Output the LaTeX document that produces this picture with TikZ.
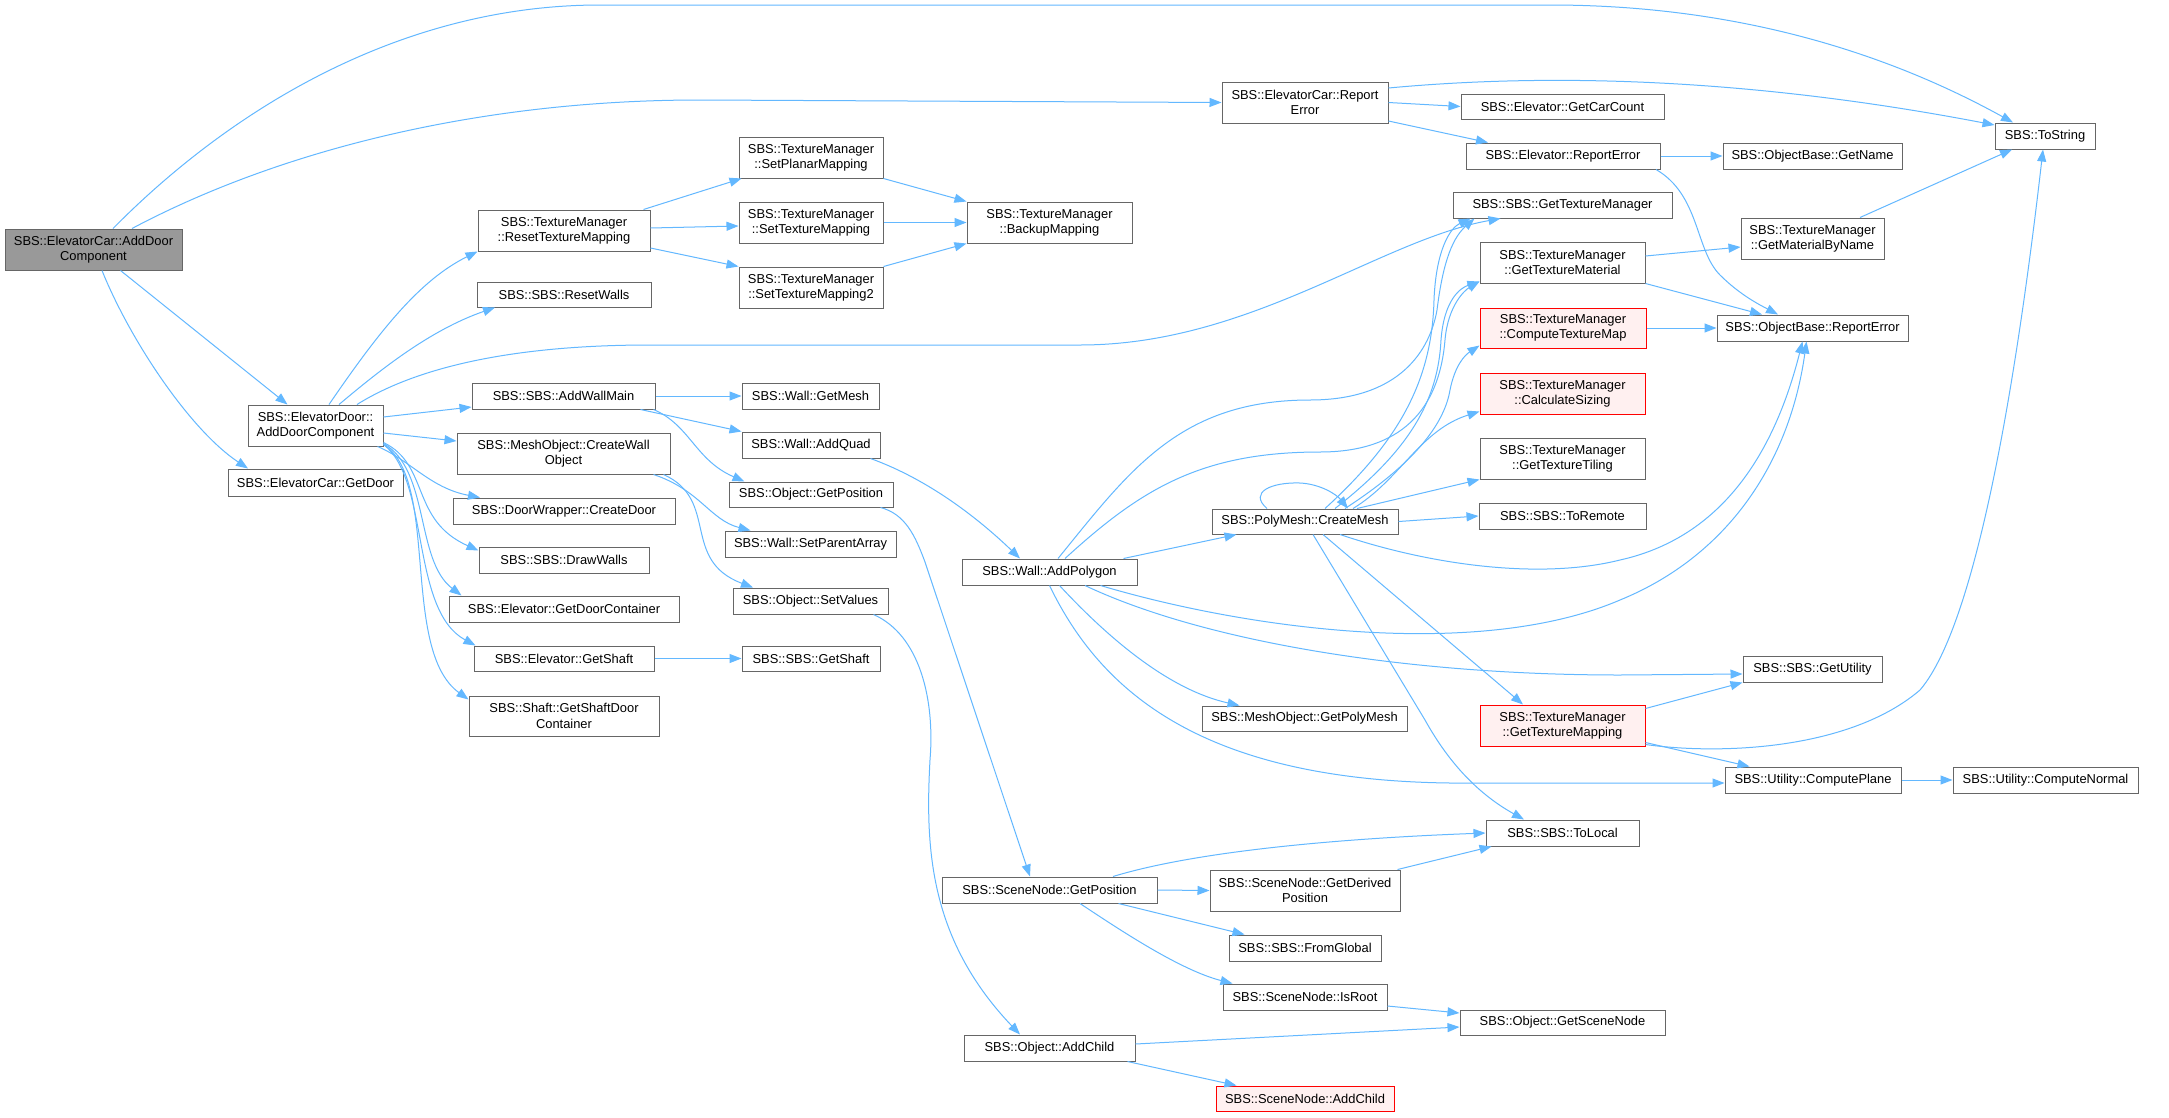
\documentclass[tikz,border=0pt]{standalone}
\usepackage{fontspec}
\setmainfont{Liberation Sans}
\usetikzlibrary{arrows.meta}
\definecolor{edgec}{HTML}{63B8FF}
\definecolor{nodeb}{HTML}{666666}
\definecolor{rootf}{HTML}{999999}
\definecolor{redb}{HTML}{FF0000}
\definecolor{redf}{HTML}{FFF0F0}
\newcommand\nd[7]{\node[#6,minimum width={(#4-#2)*1pt},minimum height={(#5-#3)*1pt}] (#1) at ({(#2+#4)/2},{(#3+#5)/2}) {#7};}
\tikzset{
  box/.style={draw=nodeb,fill=white,line width=1pt,inner sep=0pt,align=center,font=\fontsize{12.9pt}{15.3pt}\selectfont},
  rootbox/.style={box,fill=rootf},
  redbox/.style={box,draw=redb,fill=redf},
  calle/.style={draw=edgec,line width=1pt,-{Triangle[length=12pt,width=9pt]}}
}
\begin{document}
\begin{tikzpicture}[x=1pt,y=-1pt]
\fill[white] (0,0) rectangle (2169,1117);
\useasboundingbox (0,0) rectangle (2169,1117);
% nodes
\nd{root}{5}{229}{182}{270}{rootbox}{SBS::ElevatorCar::AddDoor\\Component}
\nd{ecRep}{1222}{82}{1388}{123}{box}{SBS::ElevatorCar::Report\\Error}
\nd{tostr}{1995}{123}{2095}{149}{box}{SBS::ToString}
\nd{carCount}{1461}{94}{1664}{119}{box}{SBS::Elevator::GetCarCount}
\nd{eRep}{1466}{143}{1660}{169}{box}{SBS::Elevator::ReportError}
\nd{getName}{1723}{143}{1902}{169}{box}{SBS::ObjectBase::GetName}
\nd{texMgr}{1453}{192}{1672}{218}{box}{SBS::SBS::GetTextureManager}
\nd{matByName}{1741}{218}{1884}{259}{box}{SBS::TextureManager\\::GetMaterialByName}
\nd{texMat}{1480}{242}{1645}{283}{box}{SBS::TextureManager\\::GetTextureMaterial}
\nd{obRep}{1717}{315}{1908}{341}{box}{SBS::ObjectBase::ReportError}
\nd{compTex}{1480}{308}{1646}{348}{redbox}{SBS::TextureManager\\::ComputeTextureMap}
\nd{calcSz}{1480}{373}{1645}{414}{redbox}{SBS::TextureManager\\::CalculateSizing}
\nd{tiling}{1480}{438}{1645}{479}{box}{SBS::TextureManager\\::GetTextureTiling}
\nd{toRemote}{1479}{503}{1646}{529}{box}{SBS::SBS::ToRemote}
\nd{getUtil}{1743}{656}{1882}{682}{box}{SBS::SBS::GetUtility}
\nd{texMap}{1480}{705}{1645}{746}{redbox}{SBS::TextureManager\\::GetTextureMapping}
\nd{compPlane}{1725}{767}{1901}{793}{box}{SBS::Utility::ComputePlane}
\nd{compNorm}{1953}{767}{2138}{793}{box}{SBS::Utility::ComputeNormal}
\nd{toLocal}{1486}{820}{1639}{846}{box}{SBS::SBS::ToLocal}
\nd{sceneNode}{1460}{1010}{1665}{1035}{box}{SBS::Object::GetSceneNode}
\nd{createMesh}{1212}{509}{1398}{534}{box}{SBS::PolyMesh::CreateMesh}
\nd{getPolyMesh}{1202}{706}{1407}{731}{box}{SBS::MeshObject::GetPolyMesh}
\nd{derived}{1210}{870}{1400}{911}{box}{SBS::SceneNode::GetDerived\\Position}
\nd{fromGlobal}{1229}{935}{1381}{961}{box}{SBS::SBS::FromGlobal}
\nd{isRoot}{1223}{984}{1387}{1010}{box}{SBS::SceneNode::IsRoot}
\nd{snAddChild}{1216}{1086}{1394}{1111}{redbox}{SBS::SceneNode::AddChild}
\nd{addPoly}{962}{559}{1137}{585}{box}{SBS::Wall::AddPolygon}
\nd{snGetPos}{942}{877}{1157}{903}{box}{SBS::SceneNode::GetPosition}
\nd{objAddChild}{964}{1035}{1135}{1061}{box}{SBS::Object::AddChild}
\nd{resetTM}{478}{210}{650}{251}{box}{SBS::TextureManager\\::ResetTextureMapping}
\nd{resetWalls}{477}{282}{651}{307}{box}{SBS::SBS::ResetWalls}
\nd{planar}{739}{137}{883}{178}{box}{SBS::TextureManager\\::SetPlanarMapping}
\nd{setTM}{739}{202}{883}{243}{box}{SBS::TextureManager\\::SetTextureMapping}
\nd{setTM2}{739}{267}{883}{308}{box}{SBS::TextureManager\\::SetTextureMapping2}
\nd{backup}{967}{202}{1132}{243}{box}{SBS::TextureManager\\::BackupMapping}
\nd{edAdd}{248}{405}{383}{446}{box}{SBS::ElevatorDoor::\\AddDoorComponent}
\nd{getDoor}{228}{469}{403}{496}{box}{SBS::ElevatorCar::GetDoor}
\nd{addWallMain}{472}{383}{655}{409}{box}{SBS::SBS::AddWallMain}
\nd{createWall}{457}{433}{670}{474}{box}{SBS::MeshObject::CreateWall\\Object}
\nd{createDoor}{453}{498}{675}{524}{box}{SBS::DoorWrapper::CreateDoor}
\nd{drawWalls}{479}{547}{649}{573}{box}{SBS::SBS::DrawWalls}
\nd{doorCont}{449}{596}{679}{622}{box}{SBS::Elevator::GetDoorContainer}
\nd{eGetShaft}{474}{646}{654}{671}{box}{SBS::Elevator::GetShaft}
\nd{shaftDoor}{469}{696}{659}{736}{box}{SBS::Shaft::GetShaftDoor\\Container}
\nd{getMesh}{742}{383}{879}{409}{box}{SBS::Wall::GetMesh}
\nd{addQuad}{742}{432}{880}{458}{box}{SBS::Wall::AddQuad}
\nd{objGetPos}{729}{482}{893}{507}{box}{SBS::Object::GetPosition}
\nd{setParent}{725}{531}{896}{557}{box}{SBS::Wall::SetParentArray}
\nd{setValues}{733}{588}{888}{614}{box}{SBS::Object::SetValues}
\nd{sbsGetShaft}{742}{646}{880}{671}{box}{SBS::SBS::GetShaft}
% edges
\draw[calle] ([xshift=19.5pt]root.north) .. controls (230,110) and (400,5) .. (600,5) -- (1550,5) .. controls (1750,5) and (1900,60) .. ([xshift=-32pt]tostr.north);
\draw[calle] ([xshift=38.5pt]root.north) .. controls (280,150) and (480,100) .. (700,100) -- (ecRep.west);
\draw[calle] ([xshift=27pt]root.south) -- ([xshift=-28pt]edAdd.north);
\draw[calle] ([xshift=8.5pt]root.south) .. controls (130,340) and (190,430) .. ([xshift=-67.5pt]getDoor.north);
\draw[calle] ([yshift=14.5pt]ecRep.east) .. controls (1560,72) and (1760,80) .. ([yshift=11pt]tostr.west);
\draw[calle] (ecRep.east) -- (carCount.west);
\draw[calle] ([yshift=-18.5pt]ecRep.east) -- ([xshift=-75pt]eRep.north);
\draw[calle] (eRep.east) -- (getName.west);
\draw[calle] ([xshift=93pt]eRep.south) .. controls (1700,195) and (1695,250) .. (1720,275) .. controls (1740,295) and (1760,305) .. ([xshift=-34.5pt]obRep.north);
\draw[calle] ([xshift=47.5pt]matByName.north) -- ([xshift=-33pt]tostr.south);
\draw[calle] ([yshift=6.5pt]texMat.east) -- ([yshift=-8.5pt]matByName.west);
\draw[calle] (texMat.south east) -- ([xshift=-50.5pt]obRep.north);
\draw[calle] (compTex.east) -- (obRep.west);
\draw[calle] ([xshift=13.5pt]edAdd.north) .. controls (380,330) and (420,280) .. (resetTM.south west);
\draw[calle] ([xshift=23.5pt]edAdd.north) .. controls (380,370) and (430,330) .. ([xshift=-69pt]resetWalls.south);
\draw[calle] ([xshift=41.5pt]edAdd.north) .. controls (420,365) and (520,345) .. (650,345) -- (1080,345) .. controls (1250,345) and (1380,240) .. ([xshift=-62pt]texMgr.south);
\draw[calle] ([yshift=8.5pt]edAdd.east) -- ([yshift=-11pt]addWallMain.west);
\draw[calle] ([yshift=-7.5pt]edAdd.east) -- ([yshift=12.5pt]createWall.west);
\draw[calle] ([xshift=-6pt]edAdd.south east) .. controls (410,460) and (430,488) .. ([xshift=-84pt]createDoor.north);
\draw[calle] ([yshift=4pt]edAdd.south east) .. controls (430,465) and (410,520) .. ([yshift=-4pt]drawWalls.north west);
\draw[calle] ([yshift=3pt]edAdd.south east) .. controls (430,470) and (415,560) .. ([xshift=13pt]doorCont.north west);
\draw[calle] ([yshift=2pt]edAdd.south east) .. controls (430,480) and (410,610) .. ([xshift=2pt]eGetShaft.north west);
\draw[calle] ([yshift=2pt]edAdd.south east) .. controls (440,480) and (400,650) .. ([yshift=-4pt]shaftDoor.north west);
\draw[calle] ([xshift=-7pt]resetTM.north east) -- ([xshift=3pt]planar.south west);
\draw[calle] ([yshift=2.5pt]resetTM.east) -- ([yshift=-3.5pt]setTM.west);
\draw[calle] ([yshift=-17.5pt]resetTM.east) -- (setTM2.north west);
\draw[calle] (planar.south east) -- (backup.north west);
\draw[calle] (setTM.east) -- (backup.west);
\draw[calle] (setTM2.north east) -- (backup.south west);
\draw[calle] (addWallMain.east) -- (getMesh.west);
\draw[calle] ([xshift=-15pt]addWallMain.south east) -- (addQuad.north west);
\draw[calle] ([xshift=-2pt]addWallMain.south east) .. controls (690,425) and (695,460) .. ([xshift=16pt]objGetPos.north west);
\draw[calle] ([xshift=-17pt]createWall.south east) .. controls (700,490) and (710,520) .. ([xshift=-60pt]setParent.north);
\draw[calle] ([xshift=-7pt]createWall.south east) .. controls (720,500) and (680,560) .. ([xshift=-57.5pt]setValues.north);
\draw[calle] (eGetShaft.east) -- (sbsGetShaft.west);
\draw[calle] ([xshift=-10pt]addQuad.south east) .. controls (930,480) and (980,520) .. ([xshift=-29.5pt]addPoly.north);
\draw[calle] ([xshift=-13pt]objGetPos.south east) .. controls (905,514) and (915,535) .. (925,562) -- ([xshift=-19.5pt]snGetPos.north);
\draw[calle] ([xshift=-15pt]setValues.south east) .. controls (920,635) and (935,700) .. (930,760) .. controls (925,850) and (930,940) .. ([xshift=-29.5pt]objAddChild.north);
\draw[calle] ([xshift=-14pt]addPoly.north east) -- ([xshift=25pt]createMesh.south west);
\draw[calle] ([xshift=8.5pt]addPoly.north) .. controls (1130,470) and (1180,400) .. (1310,400) .. controls (1400,400) and (1430,350) .. (1437,310) .. controls (1442,270) and (1450,240) .. ([xshift=22pt]texMgr.south west);
\draw[calle] ([xshift=15.5pt]addPoly.north) .. controls (1140,490) and (1200,452) .. (1320,452) .. controls (1410,452) and (1440,400) .. (1445,340) .. controls (1448,305) and (1465,290) .. ([yshift=2pt]texMat.south west);
\draw[calle] ([xshift=20pt]createMesh.north) .. controls (1400,440) and (1432,380) .. (1434,300) .. controls (1436,250) and (1450,228) .. ([xshift=18pt]texMgr.south west);
\draw[calle] ([xshift=30pt]createMesh.north) .. controls (1410,450) and (1438,400) .. (1441,340) .. controls (1444,300) and (1460,288) .. ([yshift=2pt]texMat.south west);
\draw[calle] ([xshift=40pt]createMesh.north) .. controls (1420,460) and (1445,420) .. (1450,390) .. controls (1455,365) and (1465,355) .. ([yshift=3pt]compTex.south west);
\draw[calle] ([xshift=48pt]createMesh.north) .. controls (1400,480) and (1420,430) .. ([yshift=3pt]calcSz.south west);
\draw[calle] ([xshift=52pt]createMesh.north) -- (tiling.south west);
\draw[calle] (createMesh.east) -- (toRemote.west);
\draw[calle] ([xshift=35pt]createMesh.south) .. controls (1430,565) and (1540,580) .. (1620,560) .. controls (1710,540) and (1770,470) .. ([xshift=-10pt]obRep.south);
\draw[calle] ([xshift=-37pt]addPoly.south east) .. controls (1250,630) and (1480,660) .. (1620,600) .. controls (1730,555) and (1790,460) .. ([xshift=-6pt]obRep.south);
\draw[calle] ([xshift=35.5pt]addPoly.south) .. controls (1200,640) and (1400,675) .. (1620,675) -- ([yshift=-5pt]getUtil.west);
\draw[calle] ([xshift=10pt]addPoly.south) .. controls (1110,640) and (1170,690) .. ([xshift=38pt]getPolyMesh.north west);
\draw[calle] (addPoly.south) .. controls (1100,690) and (1200,780) .. (1450,783) -- ([yshift=-3pt]compPlane.west);
\draw[calle] ([xshift=-38pt]createMesh.north) .. controls (1248,492) and (1272,482) .. (1300,483) .. controls (1320,484) and (1336,494) .. ([xshift=43pt]createMesh.north);
\draw[calle] ([xshift=8pt]createMesh.south) -- (1425,720) .. controls (1450,765) and (1480,795) .. ([xshift=-38.5pt]toLocal.north);
\draw[calle] ([xshift=18pt]createMesh.south) -- ([xshift=-39.5pt]texMap.north);
\draw[calle] ([yshift=-4pt]texMap.north east) -- (getUtil.south west);
\draw[calle] ([yshift=2pt]texMap.south east) .. controls (1720,755) and (1850,750) .. (1920,690) .. controls (1980,620) and (2020,350) .. ([xshift=-2pt]tostr.south);
\draw[calle] ([yshift=4pt]texMap.south east) -- ([xshift=25pt]compPlane.north west);
\draw[calle] (compPlane.east) -- (compNorm.west);
\draw[calle] ([xshift=63.5pt]snGetPos.north) .. controls (1200,850) and (1350,838) .. (toLocal.west);
\draw[calle] (snGetPos.east) -- (derived.west);
\draw[calle] ([xshift=-39pt]snGetPos.south east) -- ([xshift=16pt]fromGlobal.north west);
\draw[calle] ([xshift=30.5pt]snGetPos.south) .. controls (1120,930) and (1180,970) .. ([xshift=10pt]isRoot.north west);
\draw[calle] ([xshift=-3pt]derived.north east) -- ([xshift=6pt]toLocal.south west);
\draw[calle] ([yshift=-9pt]isRoot.east) -- ([yshift=9.5pt]sceneNode.west);
\draw[calle] ([yshift=4pt]objAddChild.east) -- ([yshift=-4.5pt]sceneNode.west);
\draw[calle] ([xshift=-8pt]objAddChild.south east) -- ([xshift=21pt]snAddChild.north west);
\end{tikzpicture}
\end{document}
